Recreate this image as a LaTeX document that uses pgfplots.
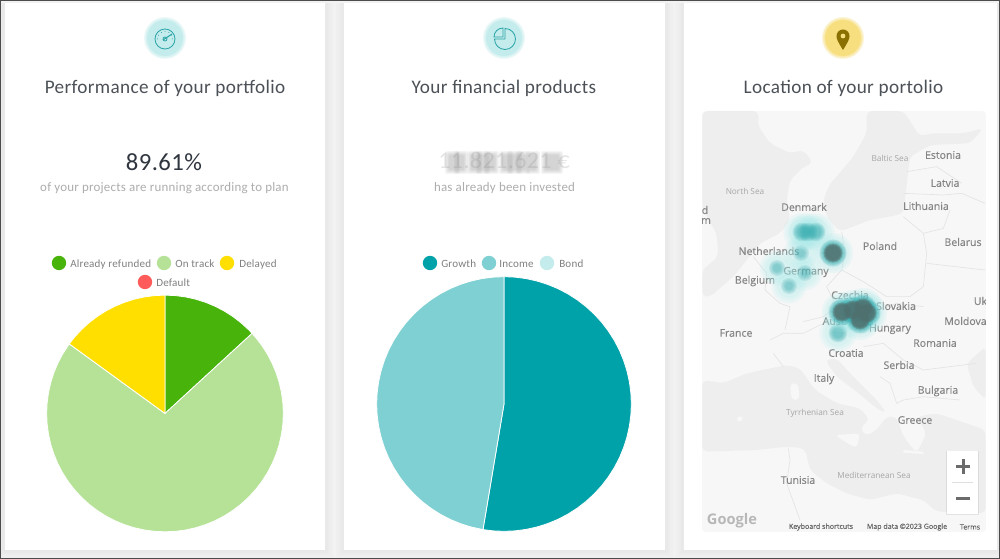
\documentclass[border=0pt]{standalone}
\usepackage{fontspec}
\usepackage{pgfplots}
\usepackage{pgfplotstable}
\pgfplotsset{compat=1.18}
\usepgfplotslibrary{polar}
\setmainfont{Carlito}
\newfontfamily\bfam[LetterSpace=1.8]{Carlito}
\newfontfamily\mapf[FakeBold=0.3]{Open Sans}
\newfontfamily\mapn{Open Sans}
\definecolor{bg}{HTML}{F2F2F2}
\definecolor{land}{HTML}{F7F7F7}
\definecolor{sea}{HTML}{EEEEEE}
\definecolor{bord}{HTML}{E4E4E4}
\definecolor{tit}{HTML}{4C5157}
\definecolor{num}{HTML}{30363F}
\definecolor{sub}{HTML}{ADADAD}
\definecolor{leg}{HTML}{808080}
\definecolor{cA}{HTML}{48B40B}
\definecolor{cB}{HTML}{B5E297}
\definecolor{cC}{HTML}{FFDF00}
\definecolor{cD}{HTML}{FF5B5B}
\definecolor{cE}{HTML}{00A2A9}
\definecolor{cF}{HTML}{7FD0D3}
\definecolor{cG}{HTML}{C5ECEC}
\definecolor{cH}{HTML}{F7DF80}
\definecolor{pinc}{HTML}{8A7000}
\definecolor{icon}{HTML}{2AA5A8}
\definecolor{halo}{HTML}{A5EAEA}
\definecolor{tealb}{HTML}{35ABAE}
\definecolor{core}{HTML}{50706F}
\definecolor{mapt}{HTML}{858585}
\definecolor{mapl}{HTML}{A6A6A6}
\pgfplotstableread{
x y
801 253
777 268
789 286
805 273
}\weakT
\pgfplotstableread{
x y
802 232
808 232
816 232
838 333
}\medT
\pgfplotstableread{
x y
833 253
842 312
853 310
863 308
867 313
860 320
}\strongT
\newcommand\lab[4][mapt]{\node[anchor=center,text=#1,font=\mapf\fontsize{#4}{#4}\selectfont] at (#2) {#3};}
\newcommand\labl[3]{\node[anchor=center,text=mapl,font=\mapn\fontsize{#3}{#3}\selectfont] at (#1) {#2};}
\newcommand\legd[5]{\fill[#3] (#1,#2) circle (7.2);\node[anchor=base west,inner sep=0,text=leg,font=\bfam\fontsize{8.3}{10}\selectfont] at (#4,#2+4.5) {#5};}
\pgfplotsset{heat/.style n args={2}{only marks,mark=*,color=#1,mark options={line width=0pt,draw=#1,draw opacity=0,fill=#1,fill opacity=#2}}}
\begin{document}
\begin{tikzpicture}[x=0.75pt,y=-0.75pt]
\path[use as bounding box] (0,0) rectangle (1000,559);
\fill[bg] (0,0) rectangle (1000,559);
% shadows and cards
\foreach \a/\b in {5/325,344/665,684/997}{
 \foreach \d in {8,5,3}{\fill[black,opacity=.012] (\a-\d,3) rectangle (\b+\d,550+\d);}
 \fill[white] (\a,3) rectangle (\b,550);
}
\draw[color=black!70,line width=.9pt] (0.7,0.7) rectangle (999.3,558.3);
% icons
\foreach \cx/\col in {165/cG,504/cG,843/cH}{
 \foreach \r in {21,20,19}{\fill[\col,opacity=.3] (\cx,38) circle (\r);}
 \fill[\col] (\cx,38) circle (18);
}
\draw[icon,line width=.65pt] (165,39) circle (10);
\draw[icon,line width=.8pt] (163,40) -- (172,34);
\draw[icon,line width=.6pt] (165,39) circle (2);
\foreach \ang in {150,120,90,60,30,180,0}{\fill[icon] (165,39)+(-\ang:7.5) circle (.5);}
\draw[icon,line width=.65pt] (505,28.5) arc (-90:180:10.5) -- (505,39) -- cycle;
\draw[icon,line width=.65pt,fill=cG] (503,37) -- (494,37) arc (180:270:9) -- cycle;
\fill[pinc] (843,50) .. controls (838,42) and (836.5,39) .. (836.5,36) arc (180:360:6.5) .. controls (849.5,39) and (848,42) .. (843,50) -- cycle;
\fill[cH] (843,36) circle (2.4);
% titles
\foreach \cx/\t in {165/Performance of your portfolio,504/Your financial products,843.5/Location of your portolio}{
 \node[anchor=base,inner sep=0,text=tit,font=\bfam\fontsize{14.4}{16}\selectfont] at (\cx,94) {\t};
}
\node[anchor=base,inner sep=0,text=num,font=\bfam\fontsize{18.5}{20}\selectfont] at (164,171) {89.61\%};
\node[anchor=base,inner sep=0,text=sub,font=\bfam\fontsize{9.7}{12}\selectfont] at (164.5,192) {of your projects are running according to plan};
\node[anchor=base,inner sep=0,text=sub,font=\bfam\fontsize{9.7}{12}\selectfont] at (504.5,192) {has already been invested};
% blurred amount
\node[anchor=base,inner sep=0,text=black!10,font=\bfam\fontsize{18}{20}\selectfont] at (504,169) {11.821.621 €};
\foreach \xa/\xb in {449/456,458/464,471/478,480/486,488/495,503/509,511/518,520/526,530/536,545/559}{
 \foreach \g in {4,3,2,1,0}{\fill[black!50,opacity=.075,rounded corners=1.5pt] (\xa-\g,155-\g) rectangle (\xb+\g,170+\g);}
}
% legends
\legd{59}{263}{cA}{70}{Already refunded}
\legd{164}{263}{cB}{175}{On track}
\legd{227}{263}{cC}{239}{Delayed}
\legd{145}{282}{cD}{156}{Default}
\legd{430}{263}{cE}{441}{Growth}
\legd{489}{263}{cF}{499}{Income}
\legd{547}{263}{cG}{559}{Bond}
% pie 1
\begin{polaraxis}[at={(123.75pt,-310.1pt)},anchor=center,scale only axis,width=177.5pt,height=177.5pt,
 hide axis,xmin=0,xmax=360,ymin=0,ymax=1,clip=false]
\addplot[fill=cA,draw=white,line width=.6pt] coordinates {(0,0)(90,1)(85,1)(80,1)(75,1)(70,1)(65,1)(60,1)(55,1)(50,1)(45,1)(42.6,1)} --cycle;
\addplot[fill=cB,draw=white,line width=.6pt] coordinates {(0,0)(42.6,1)(40,1)(35,1)(30,1)(25,1)(20,1)(15,1)(10,1)(5,1)(0,1)(-5,1)(-10,1)(-15,1)(-20,1)(-25,1)(-30,1)(-35,1)(-40,1)(-45,1)(-50,1)(-55,1)(-60,1)(-65,1)(-70,1)(-75,1)(-80,1)(-85,1)(-90,1)(-95,1)(-100,1)(-105,1)(-110,1)(-115,1)(-120,1)(-125,1)(-130,1)(-135,1)(-140,1)(-145,1)(-150,1)(-155,1)(-160,1)(-165,1)(-170,1)(-175,1)(-180,1)(-185,1)(-190,1)(-195,1)(-200,1)(-205,1)(-210,1)(-216,1)} --cycle;
\addplot[fill=cC,draw=white,line width=.6pt] coordinates {(0,0)(-216,1)(-220,1)(-225,1)(-230,1)(-235,1)(-240,1)(-245,1)(-250,1)(-255,1)(-260,1)(-265,1)(-270,1)} --cycle;
\end{polaraxis}
% pie 2
\begin{polaraxis}[at={(378pt,-303pt)},anchor=center,scale only axis,width=191pt,height=191pt,
 hide axis,xmin=0,xmax=360,ymin=0,ymax=1,clip=false]
\addplot[fill=cE,draw=white,line width=.6pt] coordinates {(0,0)(90,1)(85,1)(80,1)(75,1)(70,1)(65,1)(60,1)(55,1)(50,1)(45,1)(40,1)(35,1)(30,1)(25,1)(20,1)(15,1)(10,1)(5,1)(0,1)(-5,1)(-10,1)(-15,1)(-20,1)(-25,1)(-30,1)(-35,1)(-40,1)(-45,1)(-50,1)(-55,1)(-60,1)(-65,1)(-70,1)(-75,1)(-80,1)(-85,1)(-90,1)(-95,1)(-99.5,1)} --cycle;
\addplot[fill=cF,draw=white,line width=.6pt] coordinates {(0,0)(-99.5,1)(-105,1)(-110,1)(-115,1)(-120,1)(-125,1)(-130,1)(-135,1)(-140,1)(-145,1)(-150,1)(-155,1)(-160,1)(-165,1)(-170,1)(-175,1)(-180,1)(-185,1)(-190,1)(-195,1)(-200,1)(-205,1)(-210,1)(-215,1)(-220,1)(-225,1)(-230,1)(-235,1)(-240,1)(-245,1)(-250,1)(-255,1)(-260,1)(-265,1)(-270,1)} --cycle;
\end{polaraxis}
% map
\begin{scope}
\clip[rounded corners=3pt] (702,111) rectangle (986,532);
\fill[land] (702,111) rectangle (986,532);
\begin{scope}[shift={(690,100)},x=0.25pt,y=-0.25pt]
\fill[sea,rounded corners=4pt] (37,33)--(205,33)--(205,80)--(240,130)--(300,160)--(340,150)--(370,190)--(340,200)--(300,240)--(290,300)--(300,360)--(270,400)--(210,430)--(170,480)--(130,530)--(60,590)--(37,590)--(37,510)--(85,470)--(80,400)--(50,350)--(37,320)--cycle;
\fill[sea,rounded corners=4pt] (530,33)--(640,33)--(690,110)--(720,100)--(820,100)--(880,85)--(840,130)--(720,135)--(660,170)--(640,340)--(600,350)--(540,360)--(450,395)--(410,350)--(400,300)--(420,250)--(440,230)--(490,170)--(530,100)--cycle;
\draw[bord,line width=.5pt] (455,395)--(465,460)--(455,510)--(520,545)--(590,590)--(660,590)--(700,560)--(710,460)--(700,400)--(640,350);
\draw[bord,line width=.5pt] (455,510)--(410,560)--(440,620)--(400,650)--(340,665);
\draw[bord,line width=.5pt] (190,470)--(230,520)--(225,570)--(270,610)--(300,620)--(285,690);
\draw[bord,line width=.5pt] (640,280)--(760,285)--(815,280)--(885,310);
\draw[bord,line width=.5pt] (700,400)--(760,385)--(780,330);
\draw[bord,line width=.5pt] (650,215)--(740,200)--(815,250);
\draw[bord,line width=.5pt] (710,490)--(885,510);
\draw[bord,line width=.5pt] (540,640)--(620,610)--(700,620);
\end{scope}
\begin{scope}[shift={(690,320)},x=0.25pt,y=-0.25pt]
\fill[sea,rounded corners=4pt] (37,180)--(100,190)--(170,160)--(290,135)--(330,145)--(375,210)--(440,250)--(510,265)--(540,300)--(510,320)--(525,350)--(560,330)--(590,290)--(620,290)--(640,350)--(680,400)--(710,340)--(680,290)--(740,280)--(887,330)--(887,580)--(740,575)--(700,540)--(620,520)--(540,540)--(470,520)--(410,490)--(360,450)--(345,385)--(290,380)--(200,390)--(37,395)--cycle;
\fill[sea,rounded corners=4pt] (405,120)--(440,115)--(480,160)--(560,240)--(590,280)--(560,265)--(500,215)--(440,170)--cycle;
\fill[sea,rounded corners=4pt] (830,130)--(887,80)--(887,240)--(850,200)--cycle;
\fill[land,rounded corners=3pt] (435,345)--(510,340)--(500,385)--(465,365)--cycle;
\fill[land,rounded corners=3pt] (300,190)--(325,190)--(328,240)--(305,240)--cycle;
\fill[land,rounded corners=2pt] (140,290)--(160,290)--(155,305)--(142,305)--cycle;
\fill[land] (640,390)--(700,395)--(700,402)--(640,398)--cycle;
\draw[bord,line width=.5pt] (240,60)--(280,40)--(340,40)--(400,10);
\draw[bord,line width=.5pt] (250,100)--(280,140);
\draw[bord,line width=.5pt] (520,80)--(580,70)--(640,120)--(700,150)--(860,130);
\draw[bord,line width=.5pt] (570,170)--(600,190)--(620,250)--(640,240)--(700,230)--(810,240);
\draw[bord,line width=.5pt] (295,385)--(300,420)--(290,490)--(330,600);
\end{scope}
% labels
\labl{890,158}{Baltic Sea}{6.2}
\lab{943,155}{Estonia}{7.9}
\lab{945,183}{Latvia}{7.9}
\lab{926,206}{Lithuania}{7.9}
\labl{745,191}{North Sea}{6.2}
\lab{804,207}{Denmark}{7.9}
\lab{880,246}{Poland}{7.9}
\lab{963,242}{Belarus}{7.9}
\lab{769,251}{Netherlands}{7.9}
\lab{806,272}{Germany}{7.9}
\lab{755,281}{Belgium}{7.9}
\lab{850,295}{Czechia}{7.9}
\lab{896,306}{Slovakia}{7.9}
\lab{980.5,301}{Uk}{7.9}
\lab{965.5,321}{Moldova}{7.9}
\lab{840,321}{Austria}{7.9}
\lab{890,329}{Hungary}{7.9}
\lab{736,333}{France}{7.9}
\lab{935,343}{Romania}{7.9}
\lab{846,353}{Croatia}{7.9}
\lab{899,365}{Serbia}{7.9}
\lab{824,379}{Italy}{7.9}
\lab{938,391}{Bulgaria}{7.9}
\labl{815,413}{Tyrrhenian Sea}{6.2}
\lab{915,420}{Greece}{7.9}
\lab{798,480}{Tunisia}{7.9}
\labl{874,475}{Mediterranean Sea}{6.2}
\lab{705,210}{d}{7.9}
\lab{706,221}{m}{7.9}
\node[text=black!28,font=\mapn\bfseries\fontsize{11}{11}\selectfont] at (732,521) {Google};
\lab[black!60]{821,527}{Keyboard shortcuts}{5.3}
\lab[black!60]{907,527}{Map data ©2023 Google}{5.3}
\lab[black!60]{970,527}{Terms}{5.3}
\fill[black,opacity=.08] (946,451) rectangle (979,515.5);
\fill[white] (947,451) rectangle (978,514);
\draw[black!12,line width=.5pt] (952,482) -- (973,482);
\fill[black!58] (956,465) rectangle (970,468);
\fill[black!58] (961.5,459) rectangle (964.5,474);
\fill[black!58] (956,497) rectangle (970,500);
\end{scope}
% heat layer
\begin{axis}[at={(526.5pt,-399pt)},anchor=south west,scale only axis,width=213pt,height=315.75pt,
 hide axis,xmin=702,xmax=986,ymin=111,ymax=532,y dir=reverse]
\pgfplotsinvokeforeach{13,11,9}{\addplot[heat={halo}{.14},mark size=#1pt] table[x=x,y=y]{\weakT};}
\pgfplotsinvokeforeach{6,5,4,3}{\addplot[heat={tealb}{.16},mark size=#1pt] table[x=x,y=y]{\weakT};}
\pgfplotsinvokeforeach{14,12,10}{\addplot[heat={halo}{.14},mark size=#1pt] table[x=x,y=y]{\medT};}
\pgfplotsinvokeforeach{7,6,5,4}{\addplot[heat={tealb}{.2},mark size=#1pt] table[x=x,y=y]{\medT};}
\pgfplotsinvokeforeach{15,13,11}{\addplot[heat={halo}{.16},mark size=#1pt] table[x=x,y=y]{\strongT};}
\pgfplotsinvokeforeach{10,9,8}{\addplot[heat={tealb}{.25},mark size=#1pt] table[x=x,y=y]{\strongT};}
\pgfplotsinvokeforeach{7.2,6.6,6,5.4}{\addplot[heat={core}{.4},mark size=#1pt] table[x=x,y=y]{\strongT};}
\end{axis}
\end{tikzpicture}
\end{document}
